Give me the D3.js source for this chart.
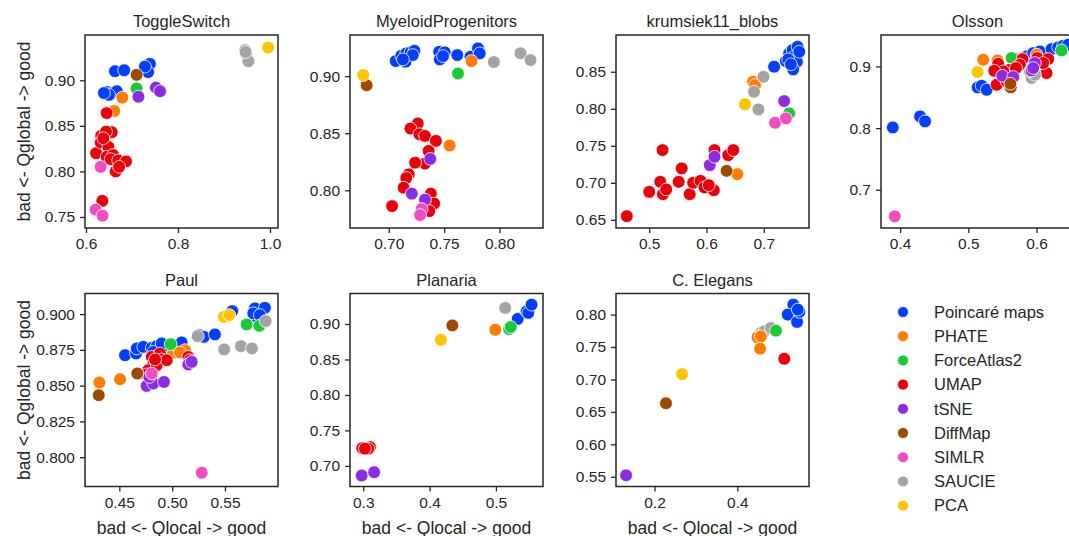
<!DOCTYPE html>
<html>
<head>
<meta charset="utf-8">
<script src="https://cdn.jsdelivr.net/npm/d3@7"></script>
<style>
  body { margin: 0; background: #fff; }
  text { font-family: "Liberation Sans", Arial, sans-serif; fill: #262626; }
</style>
</head>
<body>
<div id="chart"></div>
<script>
// methods (hue) and their colours
var methods = ["Poincaré maps", "PHATE", "ForceAtlas2", "UMAP", "tSNE", "DiffMap", "SIMLR", "SAUCIE", "PCA"];
var palette = ["#023eff", "#ff7c00", "#1ac938", "#e8000b", "#8b2be2", "#9f4800", "#f14cc1", "#a3a3a3", "#ffc400"];
var PM = "Poincaré maps", PH = "PHATE", FA = "ForceAtlas2", UM = "UMAP", TS = "tSNE",
    DM = "DiffMap", SI = "SIMLR", SA = "SAUCIE", PC = "PCA";

// [method, Qlocal, Qglobal]
var toggleSwitch = [
  [PM,0.6457,0.8872],[PM,0.6565,0.886],[PM,0.667,0.888],[PM,0.650,0.884],[PM,0.639,0.886],
  [PM,0.663,0.910],[PM,0.683,0.911],[PM,0.733,0.916],[PM,0.739,0.918],[PM,0.735,0.909],[PM,0.728,0.915],
  [PH,0.679,0.881],[PH,0.6615,0.8663],
  [FA,0.710,0.891],
  [UM,0.645,0.864],[UM,0.633,0.839],[UM,0.656,0.843],[UM,0.6435,0.8436],[UM,0.622,0.820],[UM,0.632,0.8316],
  [UM,0.6485,0.827],[UM,0.645,0.816],[UM,0.659,0.818],[UM,0.6537,0.8134],[UM,0.670,0.812],[UM,0.687,0.811],
  [UM,0.6645,0.800],[UM,0.672,0.805],[UM,0.6377,0.8364],[UM,0.6355,0.7677],
  [TS,0.714,0.882],[TS,0.752,0.892],[TS,0.761,0.888],
  [DM,0.710,0.906],
  [SI,0.632,0.805],[SI,0.621,0.758],[SI,0.636,0.7515],
  [SA,0.946,0.933],[SA,0.949,0.928],[SA,0.953,0.921],[SA,0.947,0.931],
  [PC,0.996,0.936]
];
var myeloidProgenitors = [
  [PM,0.7063,0.9132],[PM,0.7113,0.9178],[PM,0.7158,0.9199],[PM,0.7196,0.9207],[PM,0.7232,0.9222],
  [PM,0.7152,0.9126],[PM,0.7217,0.9184],[PM,0.7128,0.9146],[PM,0.7455,0.9213],[PM,0.7506,0.9208],
  [PM,0.7461,0.9146],[PM,0.749,0.9175],[PM,0.7619,0.9184],[PM,0.7738,0.917],[PM,0.7806,0.9243],[PM,0.7821,0.9199],
  [PH,0.7747,0.9132],[PH,0.755,0.8392],
  [FA,0.7625,0.9023],
  [UM,0.7262,0.8585],[UM,0.7196,0.8541],[UM,0.7277,0.8491],[UM,0.7327,0.8476],[UM,0.7426,0.8433],
  [UM,0.736,0.8345],[UM,0.7327,0.8234],[UM,0.7238,0.8242],[UM,0.718,0.814],[UM,0.7158,0.8108],
  [UM,0.7134,0.8023],[UM,0.738,0.7971],[UM,0.741,0.7884],[UM,0.7366,0.7818],[UM,0.703,0.7862],
  [TS,0.7375,0.8275],[TS,0.7208,0.7971],[TS,0.7327,0.7918],
  [DM,0.680,0.892],
  [SI,0.7297,0.7836],[SI,0.7283,0.7783],
  [SA,0.7949,0.9123],[SA,0.819,0.920],[SA,0.828,0.914],
  [PC,0.677,0.9009]
];
var krumsiek = [
  [PM,0.7181,0.8568],[PM,0.7386,0.8645],[PM,0.7444,0.8749],[PM,0.7503,0.8793],[PM,0.7591,0.8838],
  [PM,0.7532,0.8703],[PM,0.7579,0.8635],[PM,0.7514,0.8532],[PM,0.7427,0.8667],[PM,0.762,0.877],[PM,0.7474,0.86],
  [PH,0.6813,0.8365],[PH,0.6848,0.832],[PH,0.6539,0.7118],
  [FA,0.7444,0.7938],
  [UM,0.4609,0.655],[UM,0.5233,0.7442],[UM,0.5,0.6878],[UM,0.5193,0.7014],[UM,0.524,0.6847],[UM,0.5298,0.6911],
  [UM,0.5567,0.7195],[UM,0.5514,0.7014],[UM,0.5707,0.6847],[UM,0.5767,0.70],[UM,0.5895,0.7027],[UM,0.5965,0.6938],
  [UM,0.6128,0.6901],[UM,0.614,0.7442],[UM,0.638,0.7374],[UM,0.6468,0.7442],[UM,0.604,0.6969],
  [TS,0.7356,0.8104],[TS,0.6058,0.7239],[TS,0.614,0.7352],
  [DM,0.6351,0.7162],
  [SI,0.7198,0.7811],[SI,0.7386,0.787],
  [SA,0.6995,0.8432],[SA,0.683,0.823],[SA,0.6906,0.7992],
  [PC,0.6672,0.806]
];
var olsson = [
  [PM,0.3893,0.8011],[PM,0.4293,0.819],[PM,0.4366,0.8109],[PM,0.5137,0.866],[PM,0.5196,0.8687],[PM,0.527,0.8622],
  [PM,0.5855,0.9162],[PM,0.5952,0.9217],[PM,0.605,0.9243],[PM,0.6221,0.9282],[PM,0.6318,0.9308],
  [PM,0.6391,0.9335],[PM,0.6464,0.9352],
  [PH,0.522,0.9109],[PH,0.543,0.9097],[PH,0.5685,0.912],[PH,0.6002,0.919],
  [FA,0.6367,0.926],[FA,0.5635,0.9136],
  [UM,0.5439,0.9044],[UM,0.5416,0.8703],[UM,0.5611,0.8946],[UM,0.5513,0.8919],[UM,0.5796,0.912],
  [UM,0.5757,0.9028],[UM,0.6011,0.9136],[UM,0.6147,0.8893],[UM,0.6172,0.912],[UM,0.6099,0.9055],
  [UM,0.5699,0.8974],[UM,0.5381,0.893],[UM,0.5562,0.8757],
  [SA,0.5928,0.8812],[SA,0.5977,0.8865],[SA,0.5904,0.8919],
  [TS,0.5498,0.8849],[TS,0.5659,0.8828],[TS,0.5977,0.9055],[TS,0.5928,0.8935],[TS,0.5952,0.8974],
  [DM,0.5622,0.866],[DM,0.5617,0.872],
  [SI,0.3922,0.6569],
  [PC,0.5137,0.8909]
];
var paul = [
  [PM,0.4554,0.8713],[PM,0.4658,0.8725],[PM,0.4665,0.876],[PM,0.4727,0.8771],[PM,0.4807,0.8764],
  [PM,0.4854,0.8776],[PM,0.4916,0.8771],[PM,0.4822,0.8736],[PM,0.509,0.8802],[PM,0.5257,0.8853],
  [PM,0.53,0.8841],[PM,0.5405,0.8858],[PM,0.5569,0.9021],[PM,0.5784,0.904],[PM,0.5878,0.9044],
  [PM,0.58,0.8981],[PM,0.5768,0.9005],[PM,0.5831,0.8993],[PM,0.4901,0.8795],
  [PH,0.4311,0.8522],[PH,0.4507,0.8545],[PH,0.5011,0.8732],[PH,0.5122,0.8748],[PH,0.5074,0.8732],
  [FA,0.4986,0.879],[FA,0.5705,0.8928],[FA,0.5825,0.8918],
  [UM,0.4807,0.8701],[UM,0.4885,0.8725],[UM,0.4901,0.8683],[UM,0.4822,0.8655],[UM,0.4774,0.8608],
  [UM,0.4854,0.8643],[UM,0.4949,0.8678],[UM,0.5153,0.8701],[UM,0.5169,0.8678],[UM,0.4838,0.8683],[UM,0.4759,0.8578],
  [TS,0.479,0.8538],[TS,0.4759,0.8498],[TS,0.4822,0.8515],[TS,0.4923,0.8526],[TS,0.5153,0.8648],
  [TS,0.5185,0.8666],[TS,0.4784,0.8561],
  [DM,0.4305,0.8433],[DM,0.467,0.8585],
  [SI,0.528,0.7891],[SI,0.4807,0.8585],
  [SA,0.5242,0.8846],[SA,0.5493,0.8753],[SA,0.5651,0.8776],[SA,0.5755,0.876],[SA,0.5885,0.8951],
  [PC,0.549,0.8981],[PC,0.554,0.8993]
];
var planaria = [
  [PM,0.5328,0.9071],[PM,0.5463,0.9178],[PM,0.5488,0.9156],[PM,0.5537,0.9273],
  [PH,0.4991,0.8919],
  [FA,0.52,0.8929],[FA,0.5224,0.8958],
  [UM,0.2985,0.7252],[UM,0.31,0.7266],[UM,0.3075,0.7244],[UM,0.3025,0.7244],
  [TS,0.2976,0.6865],[TS,0.3164,0.6912],
  [DM,0.4343,0.898],
  [SA,0.514,0.9227],
  [PC,0.417,0.8778]
];
var cElegans = [
  [PM,0.5352,0.8155],[PM,0.5216,0.80],[PM,0.5442,0.7887],[PM,0.5498,0.8042],[PM,0.5459,0.8077],
  [SA,0.4567,0.7717],[SA,0.4648,0.7742],[SA,0.481,0.7794],[SA,0.4526,0.7664],
  [PH,0.4487,0.7649],[PH,0.4567,0.7664],[PH,0.455,0.7474],
  [FA,0.4932,0.7752],
  [UM,0.5133,0.7319],
  [TS,0.1313,0.5523],
  [DM,0.2277,0.6633],
  [PC,0.2666,0.7082]
];

// tick values per panel
var toggleXTicks = [0.6, 0.8, 1.0], toggleYTicks = [0.75, 0.80, 0.85, 0.90];
var myeloidXTicks = [0.70, 0.75, 0.80], myeloidYTicks = [0.80, 0.85, 0.90];
var krumsiekXTicks = [0.5, 0.6, 0.7], krumsiekYTicks = [0.65, 0.70, 0.75, 0.80, 0.85];
var olssonXTicks = [0.4, 0.5, 0.6], olssonYTicks = [0.7, 0.8, 0.9];
var paulXTicks = [0.45, 0.50, 0.55], paulYTicks = [0.800, 0.825, 0.850, 0.875, 0.900];
var planariaXTicks = [0.3, 0.4, 0.5], planariaYTicks = [0.70, 0.75, 0.80, 0.85, 0.90];
var elegansXTicks = [0.2, 0.4], elegansYTicks = [0.55, 0.60, 0.65, 0.70, 0.75, 0.80];

var xLabel = "bad <- Qlocal -> good", yLabel = "bad <- Qglobal -> good";

var panels = [
  {title: "ToggleSwitch", data: toggleSwitch, row: 0, col: 0, xDom: [0.5978, 1.0174], yDom: [0.7379, 0.9497],
   xTicks: toggleXTicks, yTicks: toggleYTicks, xFmt: ".1f", yFmt: ".2f"},
  {title: "MyeloidProgenitors", data: myeloidProgenitors, row: 0, col: 1, xDom: [0.665, 0.8393], yDom: [0.767, 0.936],
   xTicks: myeloidXTicks, yTicks: myeloidYTicks, xFmt: ".2f", yFmt: ".2f"},
  {title: "krumsiek11_blobs", data: krumsiek, row: 0, col: 2, xDom: [0.442, 0.779], yDom: [0.639, 0.8996],
   xTicks: krumsiekXTicks, yTicks: krumsiekYTicks, xFmt: ".1f", yFmt: ".2f"},
  {title: "Olsson", data: olsson, row: 0, col: 3, xDom: [0.372, 0.655], yDom: [0.638, 0.951],
   xTicks: olssonXTicks, yTicks: olssonYTicks, xFmt: ".1f", yFmt: ".1f"},
  {title: "Paul", data: paul, row: 1, col: 0, xDom: [0.4175, 0.6002], yDom: [0.7795, 0.9144],
   xTicks: paulXTicks, yTicks: paulYTicks, xFmt: ".2f", yFmt: ".3f"},
  {title: "Planaria", data: planaria, row: 1, col: 1, xDom: [0.280, 0.571], yDom: [0.671, 0.943],
   xTicks: planariaXTicks, yTicks: planariaYTicks, xFmt: ".1f", yFmt: ".2f"},
  {title: "C. Elegans", data: cElegans, row: 1, col: 2, xDom: [0.107, 0.573], yDom: [0.535, 0.8325],
   xTicks: elegansXTicks, yTicks: elegansYTicks, xFmt: ".1f", yFmt: ".2f"}
];

// layout
var W = 1069, H = 536;
var colLeft = [85, 350, 616, 881], rowTop = [35, 293.5];
var pw = 193, ph = 193;
var ink = "#262626";

var color = d3.scaleOrdinal().domain(methods).range(palette);

var svg = d3.select("#chart")
  .append("svg")
    .attr("width", W)
    .attr("height", H);

panels.forEach(function(p) {
  var g = svg.append("g")
    .attr("transform", "translate(" + colLeft[p.col] + "," + rowTop[p.row] + ")");

  var x = d3.scaleLinear().domain(p.xDom).range([0, pw]);
  var y = d3.scaleLinear().domain(p.yDom).range([ph, 0]);

  // x axis
  var gx = g.append("g")
    .attr("transform", "translate(0," + ph + ")")
    .call(d3.axisBottom(x).tickValues(p.xTicks).tickFormat(d3.format(p.xFmt)).tickSize(5).tickPadding(5));
  // y axis
  var gy = g.append("g")
    .call(d3.axisLeft(y).tickValues(p.yTicks).tickFormat(d3.format(p.yFmt)).tickSize(5).tickPadding(5));

  [gx, gy].forEach(function(a) {
    a.select(".domain").remove();
    a.selectAll(".tick line").attr("stroke", ink).attr("stroke-width", 1.3);
    a.selectAll(".tick text")
      .style("font-family", "'Liberation Sans', Arial, sans-serif")
      .style("font-size", "15.5px")
      .attr("fill", ink);
  });

  // points
  g.append("g")
    .selectAll("circle")
    .data(p.data)
    .enter()
    .append("circle")
      .attr("cx", function(d) { return x(d[1]); })
      .attr("cy", function(d) { return y(d[2]); })
      .attr("r", 6.4)
      .attr("fill", function(d) { return color(d[0]); })
      .attr("stroke", "#fff")
      .attr("stroke-width", 0.8);

  // frame
  g.append("rect")
    .attr("width", pw)
    .attr("height", ph)
    .attr("fill", "none")
    .attr("stroke", ink)
    .attr("stroke-width", 1.5);

  // title
  g.append("text")
    .attr("x", pw / 2)
    .attr("y", -8)
    .attr("text-anchor", "middle")
    .style("font-size", "16.5px")
    .text(p.title);

  if (p.col === 0) {
    g.append("text")
      .attr("transform", "translate(-55," + (ph / 2) + ") rotate(-90)")
      .attr("text-anchor", "middle")
      .style("font-size", "17.5px")
      .text(yLabel);
  }
  if (p.row === 1) {
    g.append("text")
      .attr("x", pw / 2)
      .attr("y", ph + 47)
      .attr("text-anchor", "middle")
      .style("font-size", "17.5px")
      .text(xLabel);
  }
});

// legend
var legend = svg.append("g").attr("transform", "translate(903,312)");
methods.forEach(function(m, i) {
  var row = legend.append("g").attr("transform", "translate(0," + (i * 24.2) + ")");
  row.append("circle")
    .attr("r", 5.5)
    .attr("fill", color(m))
    .attr("stroke", "#fff")
    .attr("stroke-width", 0.8);
  row.append("text")
    .attr("x", 31)
    .attr("dy", "0.35em")
    .style("font-size", "16.5px")
    .text(m);
});
</script>
</body>
</html>
